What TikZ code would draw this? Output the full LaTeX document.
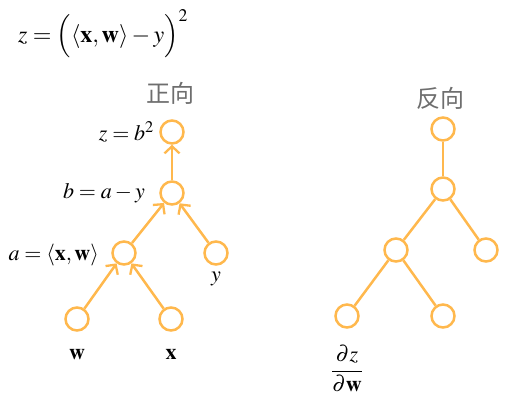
\documentclass[tikz,border=0pt]{standalone}
\usepackage{fontspec}
\usepackage{mathptmx}
\setmainfont{Liberation Serif}
\newfontfamily\cjk{Noto Sans CJK SC}
\usetikzlibrary{arrows.meta}

\definecolor{nodeorange}{RGB}{255,184,77}
\definecolor{titlegray}{RGB}{110,110,110}

\tikzset{every picture/.style={line width=0.75pt}}
\tikzset{
  neuron/.style={circle, draw=nodeorange, line width=2.5pt, minimum size=23pt, inner sep=0pt},
  fwdedge/.style={draw=nodeorange, line width=2.5pt, -{Straight Barb[length=7pt,width=15pt,line width=2.3pt]}},
  bwdedge/.style={draw=nodeorange, line width=2.5pt},
  mathlbl/.style={inner sep=0.75pt, font=\fontsize{22}{26}\selectfont},
  headlbl/.style={inner sep=0.75pt, text=titlegray, font=\fontsize{24}{28}\selectfont\cjk}
}

\begin{document}
\begin{tikzpicture}[x=1pt,y=1pt,yscale=-1,xscale=1]
\useasboundingbox (0,0) rectangle (509,408);

% loss formula
\draw (17,42) node [anchor=base west] [mathlbl, font=\fontsize{24}{28}\selectfont] (loss) {$z=\Bigl(\langle\mathbf{x},\mathbf{w}\rangle-y\Bigr)^2$};

%Forward pass
\draw (170,93) node [headlbl] (fwdtitle) {正向};
\node [neuron] (fz) at (172,132) {};
\node [neuron] (fb) at (172,193) {};
\node [neuron] (fa) at (124,253) {};
\node [neuron] (fy) at (216,253) {};
\node [neuron] (fw) at (77,319) {};
\node [neuron] (fx) at (171,319) {};
\draw [fwdedge] (fb) -- (fz);
\draw [fwdedge] (fa) -- (fb);
\draw [fwdedge] (fy) -- (fb);
\draw [fwdedge] (fw) -- (fa);
\draw [fwdedge] (fx) -- (fa);

% Text Node
\draw (155,140) node [anchor=base east] [mathlbl] (lblz) {$z=b^2$};
% Text Node
\draw (146,198) node [anchor=base east] [mathlbl] (lblb) {$b=a-y$};
% Text Node
\draw (100,260) node [anchor=base east] [mathlbl] (lbla) {$a=\langle\mathbf{x},\mathbf{w}\rangle$};
% Text Node
\draw (216,281) node [anchor=base] [mathlbl] (lbly) {$y$};
% Text Node
\draw (77,359) node [anchor=base] [mathlbl] (lblw) {$\mathbf{w}$};
% Text Node
\draw (171,359) node [anchor=base] [mathlbl] (lblx) {$\mathbf{x}$};

%Backward pass
\draw (440,98) node [headlbl] (bwdtitle) {反向};
\node [neuron] (bz) at (443,129) {};
\node [neuron] (bb) at (443,189) {};
\node [neuron] (ba) at (396,250) {};
\node [neuron] (by) at (486,250) {};
\node [neuron] (bw) at (347,316) {};
\node [neuron] (bx) at (443,316) {};
\draw [bwdedge] (bz) -- (bb);
\draw [bwdedge] (bb) -- (ba);
\draw [bwdedge] (bb) -- (by);
\draw [bwdedge] (ba) -- (bw);
\draw [bwdedge] (ba) -- (bx);

% Text Node
\draw (347,369) node [mathlbl] (lblgrad) {$\displaystyle\frac{\partial z}{\partial\mathbf{w}}$};

\end{tikzpicture}
\end{document}
